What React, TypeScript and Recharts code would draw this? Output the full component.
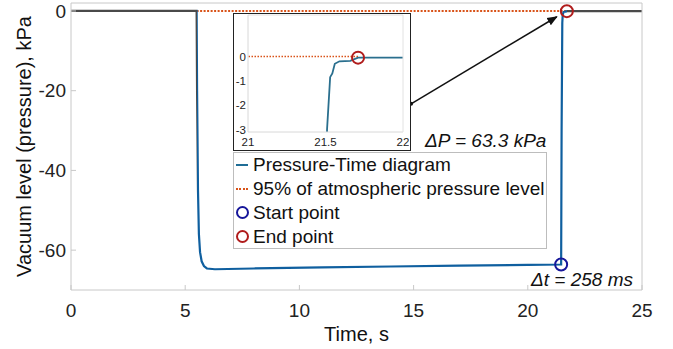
import { ComposedChart, LineChart, Line, XAxis, YAxis, ReferenceDot, ReferenceLine, Legend, Label } from 'recharts';

// main record, time in s, pressure in kPa
const timeS = [0, 5.5, 5.52, 5.56, 5.6, 5.65, 5.72, 5.82, 5.95, 6.3, 8, 11, 14, 17, 20, 21.46, 21.48, 21.51, 21.53, 21.544, 21.56, 21.59, 21.66, 21.71, 25];
const pressureKPa = [0, 0, -20, -45, -56, -60.5, -62.8, -64, -64.6, -64.8, -64.6, -64.3, -64.1, -63.9, -63.7, -63.6, -30, -3, -0.85, -0.7, -0.3, -0.2, -0.18, -0.05, -0.05];

// 95% of atmospheric pressure level
const levelTimeS = [5.5, 21.71];
const levelKPa = [0, 0];

const startPoint = { t: 21.46, p: -63.6 };
const endPoint = { t: 21.71, p: -0.05 };
const arrowFrom = { t: 14.89, p: -23.3 };
const arrowTo = { t: 21.27, p: -1.45 };

const xTicks = [0, 5, 10, 15, 20, 25];
const yTicks = [0, -20, -40, -60];
const insetXTicks = [21, 21.5, 22];
const insetYTicks = [0, -1, -2, -3];

const pressureData = timeS.map((t, i) => ({ t, p: pressureKPa[i] }));
const levelData = levelTimeS.map((t, i) => ({ t, p: levelKPa[i] }));

const FONT = '"Liberation Sans", Arial, sans-serif';
const BLUE = '#0f5f9f';
const DARK = '#4a4a4a';
const ORANGE = '#d95319';
const NAVY = '#16169a';
const RED = '#b01c1c';
const BOX = '#c8c8c8';

function BottomTick(props: any) {
  const { x, y, payload } = props;
  return (
    <g>
      <line x1={x} x2={x} y1={y - 13} y2={y - 18} stroke={BOX} />
      <text x={x} y={y} dy="0.72em" textAnchor="middle" fontSize={19} fill="#222" fontFamily={FONT}>
        {payload.value}
      </text>
    </g>
  );
}

function LeftTick(props: any) {
  const { x, y, payload } = props;
  return (
    <g>
      <line x1={x + 5} x2={x + 10} y1={y} y2={y} stroke={BOX} />
      <text x={x} y={y} dy="0.35em" textAnchor="end" fontSize={19} fill="#222" fontFamily={FONT}>
        {payload.value}
      </text>
    </g>
  );
}

function LegendBox() {
  const row = { display: 'flex', alignItems: 'center', height: 24 } as const;
  const sym = { width: 13, height: 14, marginRight: 4, position: 'relative' } as const;
  return (
    <div
      style={{
        width: 314,
        height: 97,
        boxSizing: 'border-box',
        border: '1px solid #bdbdbd',
        background: '#fff',
        paddingLeft: 2,
        fontFamily: FONT,
        fontSize: 19,
        color: '#111',
        lineHeight: '24px',
      }}
    >
      <div style={row}>
        <div style={sym}>
          <div style={{ position: 'absolute', top: 6, left: 0, width: 12, height: 2, background: '#1f6d96' }} />
        </div>
        <span>Pressure-Time diagram</span>
      </div>
      <div style={row}>
        <div style={sym}>
          <div style={{ position: 'absolute', top: 6, left: 0, width: 12, height: 0, borderTop: `2px dotted ${ORANGE}` }} />
        </div>
        <span>95% of atmospheric pressure level</span>
      </div>
      <div style={row}>
        <div style={sym}>
          <div style={{ position: 'absolute', top: 0, left: 0, width: 9, height: 9, borderRadius: '50%', border: `2px solid ${NAVY}` }} />
        </div>
        <span>Start point</span>
      </div>
      <div style={row}>
        <div style={sym}>
          <div style={{ position: 'absolute', top: 0, left: 0, width: 9, height: 9, borderRadius: '50%', border: `2px solid ${RED}` }} />
        </div>
        <span>End point</span>
      </div>
    </div>
  );
}

function Inset() {
  return (
    <div
      style={{
        position: 'absolute',
        left: 233,
        top: 13,
        width: 178,
        height: 138,
        boxSizing: 'border-box',
        border: '1.5px solid #222',
        background: '#fff',
      }}
    >
      <LineChart width={175} height={135} margin={{ top: 1, right: 6, left: 0, bottom: 0 }} style={{ overflow: 'visible' }}>
        <XAxis
          dataKey="t"
          type="number"
          domain={[21, 22]}
          ticks={insetXTicks}
          allowDataOverflow
          height={17}
          tickSize={0}
          tickLine={false}
          tickMargin={6}
          axisLine={{ stroke: '#d8d8d8' }}
          tick={{ fontSize: 11.5, fill: '#222', fontFamily: FONT }}
        />
        <XAxis xAxisId="top" orientation="top" type="number" domain={[21, 22]} mirror tick={false} tickLine={false} axisLine={{ stroke: '#e2e2e2' }} />
        <YAxis
          type="number"
          domain={[-3.1, 1.7]}
          ticks={insetYTicks}
          allowDataOverflow
          width={14}
          tickSize={0}
          tickLine={false}
          tickMargin={2}
          axisLine={{ stroke: '#d8d8d8' }}
          tick={{ fontSize: 11.5, fill: '#222', fontFamily: FONT }}
        />
        <YAxis yAxisId="right" orientation="right" type="number" domain={[-3.1, 1.7]} mirror tick={false} tickLine={false} axisLine={{ stroke: '#e2e2e2' }} />
        <Line data={levelData} dataKey="p" type="linear" stroke={ORANGE} strokeWidth={1.5} strokeDasharray="1.5 1.5" dot={false} isAnimationActive={false} />
        <Line data={pressureData} dataKey="p" type="linear" stroke="#2a6f8e" strokeWidth={1.8} dot={false} isAnimationActive={false} />
        <ReferenceDot x={endPoint.t} y={endPoint.p} r={6} fill="none" stroke={RED} strokeWidth={2} />
      </LineChart>
    </div>
  );
}

export default function App() {
  const blueStart = levelTimeS[0] / 25;
  const blueEnd = endPoint.t / 25;
  return (
    <div style={{ position: 'absolute', left: 0, top: 0, width: 673, height: 349, background: '#fff', fontFamily: FONT }}>
      <ComposedChart width={673} height={349} margin={{ top: 3, right: 31, left: 11, bottom: 8 }}>
        <defs>
          <linearGradient id="pressureStroke" x1="0" y1="0" x2="1" y2="0">
            <stop offset={0} stopColor={DARK} />
            <stop offset={blueStart} stopColor={DARK} />
            <stop offset={blueStart + 0.0005} stopColor={BLUE} />
            <stop offset={blueEnd} stopColor={BLUE} />
            <stop offset={blueEnd + 0.0005} stopColor={DARK} />
            <stop offset={1} stopColor={DARK} />
          </linearGradient>
          <marker id="arrowHead" viewBox="0 0 10 10" refX="9" refY="5" markerWidth="7" markerHeight="7" orient="auto">
            <path d="M0,1 L10,5 L0,9 z" fill="#111" />
          </marker>
        </defs>
        <XAxis
          dataKey="t"
          type="number"
          domain={[0, 25]}
          ticks={xTicks}
          height={51}
          tickSize={0}
          tickMargin={13}
          tickLine={false}
          axisLine={{ stroke: BOX }}
          tick={<BottomTick />}
        >
          <Label value="Time, s" position="insideBottom" offset={0} fontSize={20} fill="#111" fontFamily={FONT} />
        </XAxis>
        <XAxis xAxisId="top" orientation="top" type="number" domain={[0, 25]} ticks={xTicks} mirror tickSize={5} tickFormatter={() => ''} tickLine={{ stroke: BOX }} axisLine={{ stroke: BOX }} />
        <YAxis
          type="number"
          domain={[-70, 2]}
          ticks={yTicks}
          width={60}
          tickSize={0}
          tickMargin={5}
          tickLine={false}
          axisLine={{ stroke: BOX }}
          tick={<LeftTick />}
        >
          <Label
            value="Vacuum level (pressure), kPa"
            angle={-90}
            position="insideLeft"
            offset={13}
            fontSize={20}
            fill="#111"
            fontFamily={FONT}
            style={{ textAnchor: 'middle' }}
          />
        </YAxis>
        <YAxis yAxisId="right" orientation="right" type="number" domain={[-70, 2]} ticks={yTicks} mirror tickSize={5} tickFormatter={() => ''} tickLine={{ stroke: BOX }} axisLine={{ stroke: BOX }} />

        <Line data={levelData} dataKey="p" type="linear" stroke={ORANGE} strokeWidth={2} strokeDasharray="2 1.5" dot={false} isAnimationActive={false} />
        <Line data={pressureData} dataKey="p" type="linear" stroke="url(#pressureStroke)" strokeWidth={2.2} dot={false} isAnimationActive={false} />

        <ReferenceLine
          segment={[{ x: arrowFrom.t, y: arrowFrom.p }, { x: arrowTo.t, y: arrowTo.p }]}
          stroke="#111"
          strokeWidth={1.5}
          markerEnd="url(#arrowHead)"
        />
        <ReferenceDot x={arrowFrom.t} y={arrowFrom.p} r={2} fill="#111" stroke="none" />
        <ReferenceDot x={startPoint.t} y={startPoint.p} r={6} fill="none" stroke={NAVY} strokeWidth={2} />
        <ReferenceDot x={endPoint.t} y={endPoint.p} r={6} fill="none" stroke={RED} strokeWidth={2} />

        <Legend
          layout="vertical"
          align="center"
          verticalAlign="middle"
          content={<LegendBox />}
          wrapperStyle={{ left: 233, top: 152, width: 314, height: 97 }}
        />
      </ComposedChart>
      <Inset />
      <div style={{ position: 'absolute', left: 425, top: 130, fontSize: 19, fontStyle: 'italic', color: '#111', whiteSpace: 'nowrap' }}>
        ΔP = 63.3 kPa
      </div>
      <div style={{ position: 'absolute', left: 531, top: 269, fontSize: 19, fontStyle: 'italic', color: '#111', whiteSpace: 'nowrap' }}>
        Δt = 258 ms
      </div>
    </div>
  );
}
